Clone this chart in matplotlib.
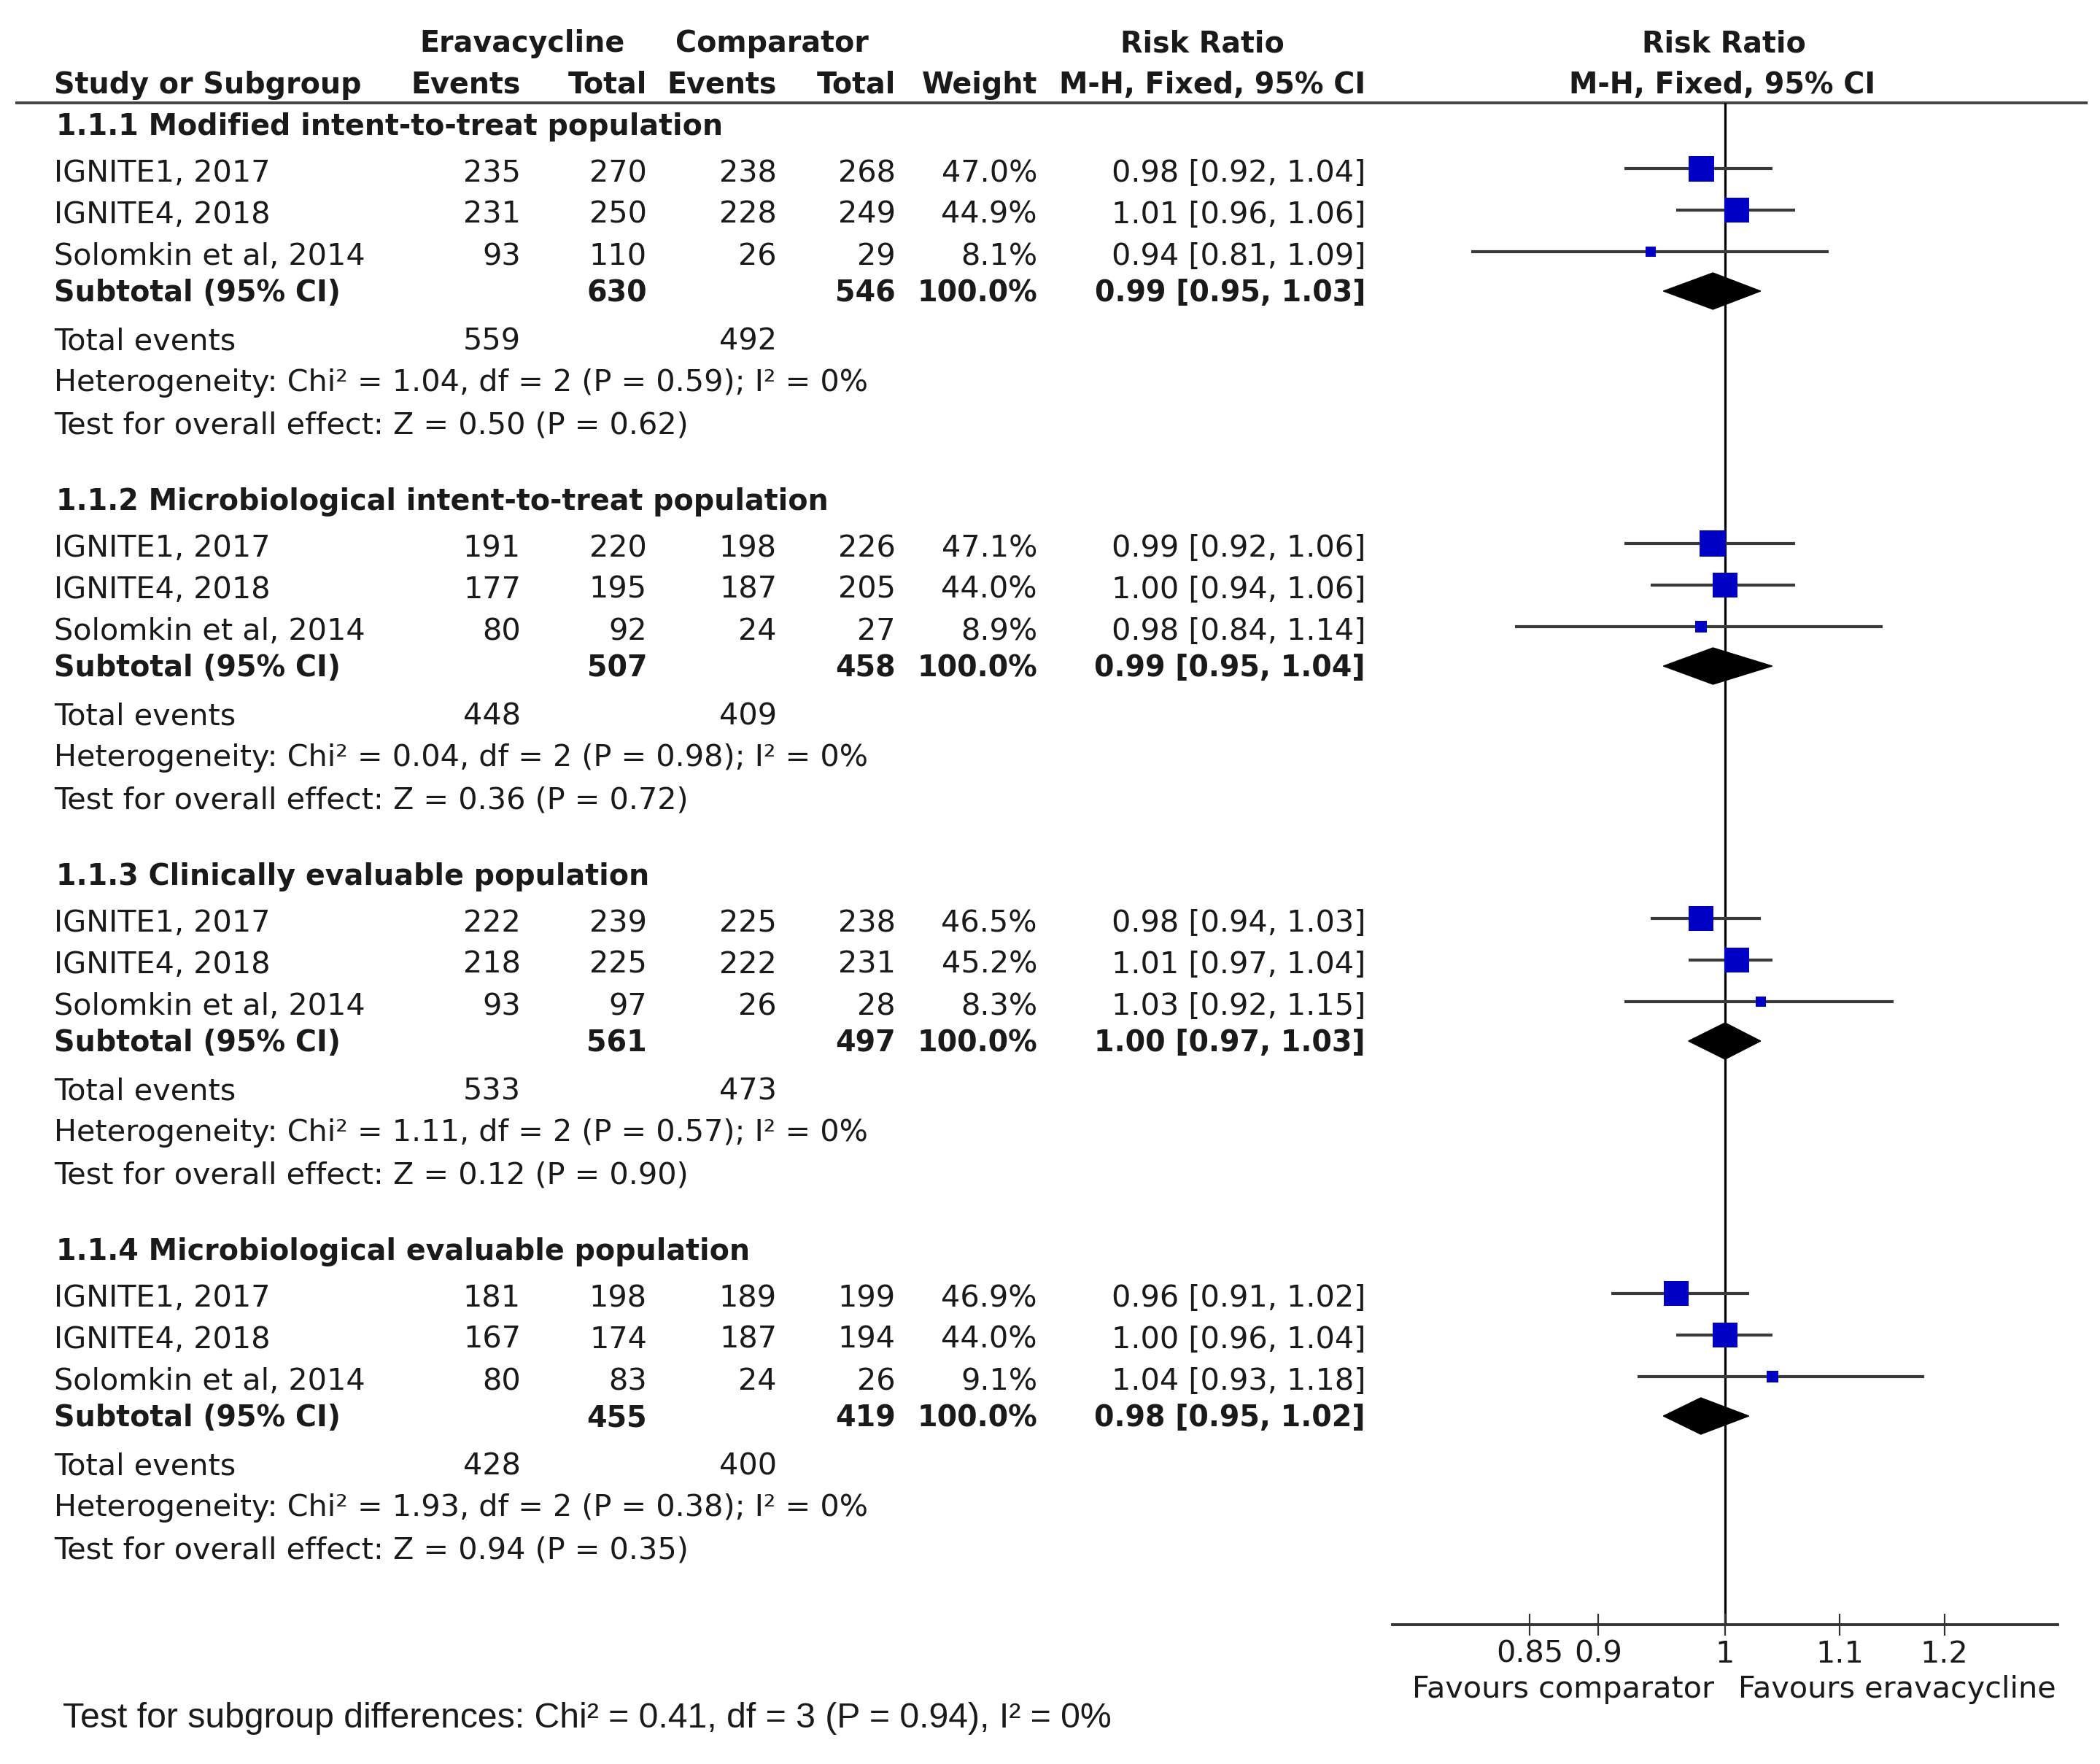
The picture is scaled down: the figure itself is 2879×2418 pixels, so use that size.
import numpy as np
import matplotlib
matplotlib.use('Agg')
import matplotlib.pyplot as plt
from matplotlib import font_manager
from matplotlib.patches import Polygon

# ---- data ----
section_titles = ['1.1.1 Modified intent-to-treat population',
                  '1.1.2 Microbiological intent-to-treat population',
                  '1.1.3 Clinically evaluable population',
                  '1.1.4 Microbiological evaluable population']
studies = ['IGNITE1, 2017', 'IGNITE4, 2018', 'Solomkin et al, 2014']

era_events = [[235, 231, 93], [191, 177, 80], [222, 218, 93], [181, 167, 80]]
era_total = [[270, 250, 110], [220, 195, 92], [239, 225, 97], [198, 174, 83]]
comp_events = [[238, 228, 26], [198, 187, 24], [225, 222, 26], [189, 187, 24]]
comp_total = [[268, 249, 29], [226, 205, 27], [238, 231, 28], [199, 194, 26]]
weights = [[47.0, 44.9, 8.1], [47.1, 44.0, 8.9], [46.5, 45.2, 8.3], [46.9, 44.0, 9.1]]
rr = [[0.98, 1.01, 0.94], [0.99, 1.00, 0.98], [0.98, 1.01, 1.03], [0.96, 1.00, 1.04]]
rr_lo = [[0.92, 0.96, 0.81], [0.92, 0.94, 0.84], [0.94, 0.97, 0.92], [0.91, 0.96, 0.93]]
rr_hi = [[1.04, 1.06, 1.09], [1.06, 1.06, 1.14], [1.03, 1.04, 1.15], [1.02, 1.04, 1.18]]

sub_era_total = [630, 507, 561, 455]
sub_comp_total = [546, 458, 497, 419]
sub_rr = [0.99, 0.99, 1.00, 0.98]
sub_lo = [0.95, 0.95, 0.97, 0.95]
sub_hi = [1.03, 1.04, 1.03, 1.02]
tot_era = [559, 448, 533, 428]
tot_comp = [492, 409, 473, 400]
het_chi = [1.04, 0.04, 1.11, 1.93]
het_p = [0.59, 0.98, 0.57, 0.38]
z_val = [0.50, 0.36, 0.12, 0.94]
z_p = [0.62, 0.72, 0.90, 0.35]

xticks = [0.85, 0.9, 1, 1.1, 1.2]
xtick_labels = ['0.85', '0.9', '1', '1.1', '1.2']
subgroup_test = 'Test for subgroup differences: Chi² = 0.41, df = 3 (P = 0.94), I² = 0%'

# ---- figure ----
W, H = 2879, 2418
fig = plt.figure(figsize=(W / 100, H / 100), dpi=100)
fig.patch.set_facecolor('white')

installed = {f.name for f in font_manager.fontManager.ttflist}
FONT = next(f for f in ['Liberation Sans Narrow', 'DejaVu Sans'] if f in installed)
FONT2 = next(f for f in ['Liberation Sans', 'DejaVu Sans'] if f in installed)
TXT = '#1a1a1a'

# text layer in image pixel coordinates
tx = fig.add_axes([0, 0, 1, 1])
tx.set_xlim(0, W)
tx.set_ylim(H, 0)
tx.axis('off')

renderer = fig.canvas.get_renderer()


def fit(s, px, family, weight='normal'):
    t = tx.text(0, 0, s, fontsize=20, family=family, weight=weight)
    w = t.get_window_extent(renderer).width
    t.remove()
    return 20 * px / w


FS = fit('Heterogeneity: Chi² = 1.04, df = 2 (P = 0.59); I² = 0%', 1116, FONT)
FSB = fit(section_titles[0], 914, FONT, 'bold')
FS2 = fit(subgroup_test, 1438, FONT2)
DY = 3  # text sits slightly below the row centre


def put(x, y, s, ha='left', bold=False):
    tx.text(x, y + DY, s, ha=ha, va='center', fontsize=FSB if bold else FS,
            family=FONT, weight='bold' if bold else 'normal', color=TXT)


# column positions (right edges, pixels)
X_NAME = 74
X_EE, X_ET, X_CE, X_CT, X_W, X_CI = 714, 887, 1065, 1228, 1422, 1872

# header
put(716, 57, 'Eravacycline', ha='center', bold=True)
put(1058, 57, 'Comparator', ha='center', bold=True)
put(1648, 57, 'Risk Ratio', ha='center', bold=True)
put(2363, 57, 'Risk Ratio', ha='center', bold=True)
put(X_NAME, 114, 'Study or Subgroup', bold=True)
for x, s in zip([X_EE, X_ET, X_CE, X_CT, X_W], ['Events', 'Total', 'Events', 'Total', 'Weight']):
    put(x, 114, s, ha='right', bold=True)
put(X_CI, 114, 'M-H, Fixed, 95% CI', ha='right', bold=True)
put(2361, 114, 'M-H, Fixed, 95% CI', ha='center', bold=True)
tx.plot([21, 2862], [141, 141], color='#444444', lw=2.8, solid_capstyle='butt')

# forest panel
Y_TOP, Y_AX = 141, 2227
fx = fig.add_axes([1909 / W, 1 - Y_AX / H, (2821 - 1909) / W, (Y_AX - Y_TOP) / H])
fx.set_xscale('log')
fx.set_xlim(0.7585, 1.3184)
fx.set_ylim(Y_AX, Y_TOP)
fx.patch.set_alpha(0)
for sp in ['top', 'left', 'right']:
    fx.spines[sp].set_visible(False)
fx.spines['bottom'].set_linewidth(2.8)
fx.spines['bottom'].set_color('#333333')
fx.set_yticks([])
fx.set_xticks(xticks)
fx.set_xticklabels(xtick_labels)
fx.minorticks_off()
fx.tick_params(axis='x', direction='inout', length=22, width=1.6, color='#333333',
               labelsize=FS, labelcolor=TXT, pad=4)
for lab in fx.get_xticklabels():
    lab.set_family(FONT)
fx.axvline(1, color='black', lw=2.3, zorder=1)

SEC_Y = [171, 685, 1199, 1713]
ROW_OFF = [64, 121, 178]
SUB_OFF, TOT_OFF, HET_OFF, Z_OFF = 228, 294, 351, 409
BLUE = '#0000c4'

for k in range(4):
    y0 = SEC_Y[k]
    put(77, y0, section_titles[k], bold=True)
    for i in range(3):
        y = y0 + ROW_OFF[i]
        put(X_NAME, y, studies[i])
        put(X_EE, y, str(era_events[k][i]), ha='right')
        put(X_ET, y, str(era_total[k][i]), ha='right')
        put(X_CE, y, str(comp_events[k][i]), ha='right')
        put(X_CT, y, str(comp_total[k][i]), ha='right')
        put(X_W, y, f'{weights[k][i]:.1f}%', ha='right')
        put(X_CI, y, f'{rr[k][i]:.2f} [{rr_lo[k][i]:.2f}, {rr_hi[k][i]:.2f}]', ha='right')
        ym = y - 4
        fx.hlines(ym, rr_lo[k][i], rr_hi[k][i], color='#3a3a3a', lw=3.0, zorder=2)
        side = 35 * np.sqrt(weights[k][i] / 47.0)
        fx.plot(rr[k][i], ym, marker='s', ms=side * 0.72, color=BLUE, mec=BLUE,
                mew=0, zorder=3)
    y = y0 + SUB_OFF
    put(X_NAME, y, 'Subtotal (95% CI)', bold=True)
    put(X_ET, y, str(sub_era_total[k]), ha='right', bold=True)
    put(X_CT, y, str(sub_comp_total[k]), ha='right', bold=True)
    put(X_W, y, '100.0%', ha='right', bold=True)
    put(X_CI, y, f'{sub_rr[k]:.2f} [{sub_lo[k]:.2f}, {sub_hi[k]:.2f}]', ha='right', bold=True)
    fx.add_patch(Polygon([(sub_lo[k], y), (sub_rr[k], y - 25), (sub_hi[k], y),
                          (sub_rr[k], y + 25)], closed=True, color='black', zorder=3))
    y = y0 + TOT_OFF
    put(X_NAME, y, 'Total events')
    put(X_EE, y, str(tot_era[k]), ha='right')
    put(X_CE, y, str(tot_comp[k]), ha='right')
    put(X_NAME, y0 + HET_OFF,
        f'Heterogeneity: Chi² = {het_chi[k]:.2f}, df = 2 (P = {het_p[k]:.2f}); I² = 0%')
    put(X_NAME, y0 + Z_OFF, f'Test for overall effect: Z = {z_val[k]:.2f} (P = {z_p[k]:.2f})')

# favours labels and subgroup test
put(2350, 2313, 'Favours comparator', ha='right')
put(2383, 2313, 'Favours eravacycline', ha='left')
tx.text(86, 2352 + DY, subgroup_test, ha='left', va='center', fontsize=FS2, family=FONT2,
        color=TXT)

fig.savefig('out.png', dpi=100, facecolor='white')
